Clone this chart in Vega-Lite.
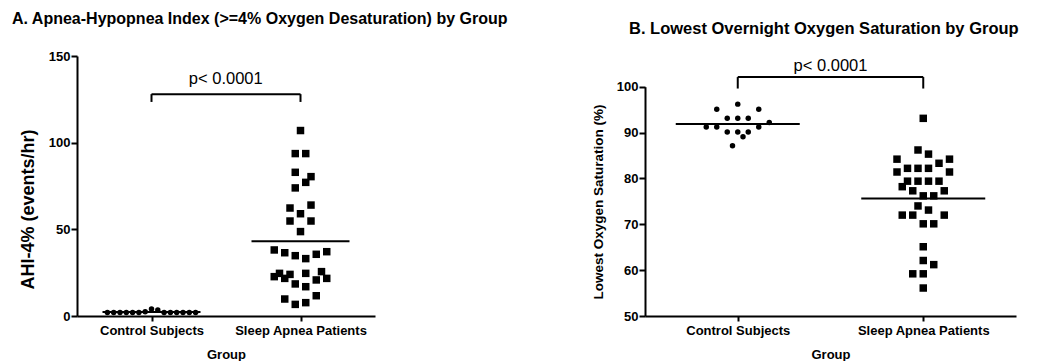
{
  "$schema": "https://vega.github.io/schema/vega-lite/v6.json",
  "padding": {"left": 12, "top": 11, "right": 0, "bottom": 0},
  "background": "white",
  "config": {
    "font": "Liberation Sans",
    "view": {"stroke": null},
    "axis": {"domainColor": "black", "tickColor": "black", "labelColor": "black", "titleColor": "black", "grid": false, "domainWidth": 2, "tickWidth": 2, "labelFont": "Liberation Sans", "titleFont": "Liberation Sans", "labelFontWeight": "bold", "titleFontWeight": "bold"}
  },
  "datasets": {
    "ahi": [
      {"group": "Control Subjects", "col": -4.2, "value": 2},
      {"group": "Control Subjects", "col": -3.6, "value": 2},
      {"group": "Control Subjects", "col": -3.0, "value": 2},
      {"group": "Control Subjects", "col": -2.4, "value": 2},
      {"group": "Control Subjects", "col": -1.8, "value": 2},
      {"group": "Control Subjects", "col": -1.2, "value": 2},
      {"group": "Control Subjects", "col": -0.6, "value": 2.5},
      {"group": "Control Subjects", "col": 0.0, "value": 4},
      {"group": "Control Subjects", "col": 0.6, "value": 3.5},
      {"group": "Control Subjects", "col": 1.2, "value": 2},
      {"group": "Control Subjects", "col": 1.8, "value": 2},
      {"group": "Control Subjects", "col": 2.4, "value": 2},
      {"group": "Control Subjects", "col": 3.0, "value": 2},
      {"group": "Control Subjects", "col": 3.6, "value": 2},
      {"group": "Control Subjects", "col": 4.2, "value": 2},
      {"group": "Sleep Apnea Patients", "col": 0, "value": 107},
      {"group": "Sleep Apnea Patients", "col": -0.5, "value": 93.7},
      {"group": "Sleep Apnea Patients", "col": 0.5, "value": 93.7},
      {"group": "Sleep Apnea Patients", "col": -0.5, "value": 82.9},
      {"group": "Sleep Apnea Patients", "col": 1, "value": 80.4},
      {"group": "Sleep Apnea Patients", "col": 0.5, "value": 77.1},
      {"group": "Sleep Apnea Patients", "col": -0.5, "value": 73.9},
      {"group": "Sleep Apnea Patients", "col": -1, "value": 62.3},
      {"group": "Sleep Apnea Patients", "col": 1, "value": 64.0},
      {"group": "Sleep Apnea Patients", "col": 0, "value": 59.0},
      {"group": "Sleep Apnea Patients", "col": -1, "value": 54.8},
      {"group": "Sleep Apnea Patients", "col": 1, "value": 54.8},
      {"group": "Sleep Apnea Patients", "col": 0, "value": 48.7},
      {"group": "Sleep Apnea Patients", "col": -2.5, "value": 38.1},
      {"group": "Sleep Apnea Patients", "col": -1.5, "value": 36.5},
      {"group": "Sleep Apnea Patients", "col": -0.5, "value": 34.8},
      {"group": "Sleep Apnea Patients", "col": 0.5, "value": 33.1},
      {"group": "Sleep Apnea Patients", "col": 1.5, "value": 35.6},
      {"group": "Sleep Apnea Patients", "col": 2.5, "value": 37.1},
      {"group": "Sleep Apnea Patients", "col": -2.5, "value": 22.7},
      {"group": "Sleep Apnea Patients", "col": -2, "value": 24.6},
      {"group": "Sleep Apnea Patients", "col": -1.5, "value": 21.7},
      {"group": "Sleep Apnea Patients", "col": -1, "value": 24.0},
      {"group": "Sleep Apnea Patients", "col": 0.5, "value": 24.6},
      {"group": "Sleep Apnea Patients", "col": 2, "value": 25.6},
      {"group": "Sleep Apnea Patients", "col": 2.5, "value": 21.7},
      {"group": "Sleep Apnea Patients", "col": 1.5, "value": 20.8},
      {"group": "Sleep Apnea Patients", "col": -0.5, "value": 18.5},
      {"group": "Sleep Apnea Patients", "col": 0.5, "value": 16.9},
      {"group": "Sleep Apnea Patients", "col": -1.5, "value": 9.8},
      {"group": "Sleep Apnea Patients", "col": -0.5, "value": 6.7},
      {"group": "Sleep Apnea Patients", "col": 0.5, "value": 7.7},
      {"group": "Sleep Apnea Patients", "col": 1.5, "value": 11.7}
    ],
    "spo2": [
      {"group": "Control Subjects", "col": 0, "value": 96.2},
      {"group": "Control Subjects", "col": -2, "value": 95.1},
      {"group": "Control Subjects", "col": 2, "value": 95.1},
      {"group": "Control Subjects", "col": -1, "value": 93.1},
      {"group": "Control Subjects", "col": 0, "value": 93.1},
      {"group": "Control Subjects", "col": 1, "value": 93.1},
      {"group": "Control Subjects", "col": -3, "value": 91.2},
      {"group": "Control Subjects", "col": -2, "value": 91.2},
      {"group": "Control Subjects", "col": 2, "value": 91.2},
      {"group": "Control Subjects", "col": 3, "value": 92.2},
      {"group": "Control Subjects", "col": -1, "value": 90.1},
      {"group": "Control Subjects", "col": 0, "value": 90.1},
      {"group": "Control Subjects", "col": 1, "value": 90.1},
      {"group": "Control Subjects", "col": 0.5, "value": 89.1},
      {"group": "Control Subjects", "col": -0.5, "value": 87.1},
      {"group": "Sleep Apnea Patients", "col": 0, "value": 93.1},
      {"group": "Sleep Apnea Patients", "col": -0.5, "value": 86.2},
      {"group": "Sleep Apnea Patients", "col": 0.5, "value": 85.3},
      {"group": "Sleep Apnea Patients", "col": -2.5, "value": 84.2},
      {"group": "Sleep Apnea Patients", "col": 2.5, "value": 84.2},
      {"group": "Sleep Apnea Patients", "col": 1.5, "value": 83.3},
      {"group": "Sleep Apnea Patients", "col": -1.5, "value": 82.2},
      {"group": "Sleep Apnea Patients", "col": -0.5, "value": 82.2},
      {"group": "Sleep Apnea Patients", "col": 0.5, "value": 82.2},
      {"group": "Sleep Apnea Patients", "col": -2.5, "value": 81.4},
      {"group": "Sleep Apnea Patients", "col": 2.5, "value": 81.4},
      {"group": "Sleep Apnea Patients", "col": -1.5, "value": 79.4},
      {"group": "Sleep Apnea Patients", "col": -0.5, "value": 79.4},
      {"group": "Sleep Apnea Patients", "col": 0.5, "value": 79.4},
      {"group": "Sleep Apnea Patients", "col": 1.5, "value": 79.4},
      {"group": "Sleep Apnea Patients", "col": -2, "value": 78.2},
      {"group": "Sleep Apnea Patients", "col": -1, "value": 77.3},
      {"group": "Sleep Apnea Patients", "col": 2, "value": 77.3},
      {"group": "Sleep Apnea Patients", "col": 0, "value": 76.2},
      {"group": "Sleep Apnea Patients", "col": 1, "value": 76.2},
      {"group": "Sleep Apnea Patients", "col": -0.5, "value": 74.0},
      {"group": "Sleep Apnea Patients", "col": 0.5, "value": 73.1},
      {"group": "Sleep Apnea Patients", "col": -2, "value": 72.0},
      {"group": "Sleep Apnea Patients", "col": -1, "value": 72.0},
      {"group": "Sleep Apnea Patients", "col": 2, "value": 72.0},
      {"group": "Sleep Apnea Patients", "col": 0, "value": 70.1},
      {"group": "Sleep Apnea Patients", "col": 1, "value": 70.1},
      {"group": "Sleep Apnea Patients", "col": 0, "value": 65.1},
      {"group": "Sleep Apnea Patients", "col": 0, "value": 62.1},
      {"group": "Sleep Apnea Patients", "col": 1, "value": 61.2},
      {"group": "Sleep Apnea Patients", "col": -1, "value": 59.2},
      {"group": "Sleep Apnea Patients", "col": 0, "value": 59.2},
      {"group": "Sleep Apnea Patients", "col": 0, "value": 56.1}
    ],
    "brA": [{"from": "Control Subjects", "to": "Sleep Apnea Patients", "y": 128, "yEnd": 123.5, "ty": 134, "label": "p< 0.0001"}],
    "brB": [{"from": "Control Subjects", "to": "Sleep Apnea Patients", "y": 102.1, "yEnd": 99.6, "ty": 103.4, "label": "p< 0.0001"}]
  },
  "hconcat": [
    {
      "width": 298,
      "height": 260,
      "title": {"text": "A.  Apnea-Hypopnea Index (>=4% Oxygen Desaturation) by Group", "anchor": "start", "frame": "group", "dx": -65, "fontSize": 16, "fontWeight": "bold", "color": "black", "baseline": "alphabetic", "offset": 10},
      "layer": [
        {
          "data": {"name": "ahi"},
          "mark": {"type": "point", "filled": true, "opacity": 1, "color": "black", "strokeWidth": 0},
          "encoding": {
            "x": {"field": "group", "type": "nominal", "scale": {"type": "point", "padding": 0.5, "domain": ["Control Subjects", "Sleep Apnea Patients"]},
              "axis": {"title": "Group", "labelAngle": 0, "tickSize": 5, "labelFontSize": 13, "labelPadding": 3, "titleFontSize": 13, "titlePadding": 11}},
            "xOffset": {"field": "col", "type": "quantitative", "scale": {"domain": [-1, 1], "range": [-10.5, 10.5]}},
            "y": {"field": "value", "type": "quantitative", "scale": {"domain": [0, 150], "nice": false},
              "axis": {"values": [0, 50, 100, 150], "title": "AHI-4% (events/hr)", "tickSize": 6, "labelFontSize": 13, "labelPadding": 1, "titleFontSize": 18, "titleX": -49, "titleY": 153, "titleBaseline": "middle"}},
            "shape": {"field": "group", "type": "nominal", "scale": {"domain": ["Control Subjects", "Sleep Apnea Patients"], "range": ["circle", "square"]}, "legend": null},
            "size": {"field": "group", "type": "ordinal", "scale": {"domain": ["Control Subjects", "Sleep Apnea Patients"], "range": [30, 56]}, "legend": null}
          }
        },
        {
          "data": {"name": "ahi"},
          "mark": {"type": "tick", "color": "black", "thickness": 2, "size": 98, "opacity": 1},
          "encoding": {
            "x": {"field": "group", "type": "nominal"},
            "y": {"field": "value", "aggregate": "mean", "type": "quantitative"}
          }
        },
        {
          "data": {"name": "brA"},
          "mark": {"type": "rule", "color": "black", "strokeWidth": 2},
          "encoding": {
            "x": {"field": "from", "type": "nominal"},
            "x2": {"field": "to"},
            "y": {"field": "y", "type": "quantitative"}
          }
        },
        {
          "data": {"name": "brA"},
          "mark": {"type": "rule", "color": "black", "strokeWidth": 2},
          "encoding": {
            "x": {"field": "from", "type": "nominal"},
            "y": {"field": "y", "type": "quantitative"},
            "y2": {"field": "yEnd"}
          }
        },
        {
          "data": {"name": "brA"},
          "mark": {"type": "rule", "color": "black", "strokeWidth": 2},
          "encoding": {
            "x": {"field": "to", "type": "nominal"},
            "y": {"field": "y", "type": "quantitative"},
            "y2": {"field": "yEnd"}
          }
        },
        {
          "data": {"name": "brA"},
          "mark": {"type": "text", "color": "black", "fontSize": 16.5, "dx": 74.25, "baseline": "alphabetic", "align": "center"},
          "encoding": {
            "x": {"field": "from", "type": "nominal"},
            "y": {"field": "ty", "type": "quantitative"},
            "text": {"field": "label"}
          }
        }
      ]
    },
    {
      "width": 371,
      "height": 260,
      "title": {"text": "B.  Lowest Overnight Oxygen Saturation by Group", "anchor": "start", "frame": "group", "dx": -16, "fontSize": 16.5, "fontWeight": "bold", "color": "black", "baseline": "alphabetic", "offset": 6},
      "layer": [
        {
          "data": {"name": "spo2"},
          "mark": {"type": "point", "filled": true, "opacity": 1, "color": "black", "strokeWidth": 0},
          "encoding": {
            "x": {"field": "group", "type": "nominal", "scale": {"type": "point", "padding": 0.5, "domain": ["Control Subjects", "Sleep Apnea Patients"]},
              "axis": {"title": "Group", "labelAngle": 0, "tickSize": 5, "labelFontSize": 13, "labelPadding": 3, "titleFontSize": 13, "titlePadding": 11}},
            "xOffset": {"field": "col", "type": "quantitative", "scale": {"domain": [-1, 1], "range": [-10.3, 10.3]}},
            "y": {"field": "value", "type": "quantitative", "scale": {"domain": [50, 100], "range": [260, 30.7], "nice": false, "zero": false},
              "axis": {"values": [50, 60, 70, 80, 90, 100], "title": "Lowest Oxygen Saturation (%)", "tickSize": 6, "labelFontSize": 13, "labelPadding": 1, "titleFontSize": 13.5, "titleX": -47, "titleY": 145.5, "titleBaseline": "middle"}},
            "shape": {"field": "group", "type": "nominal", "scale": {"domain": ["Control Subjects", "Sleep Apnea Patients"], "range": ["circle", "square"]}, "legend": null},
            "size": {"field": "group", "type": "ordinal", "scale": {"domain": ["Control Subjects", "Sleep Apnea Patients"], "range": [36, 46]}, "legend": null}
          }
        },
        {
          "data": {"name": "spo2"},
          "mark": {"type": "tick", "color": "black", "thickness": 2, "size": 124, "opacity": 1},
          "encoding": {
            "x": {"field": "group", "type": "nominal"},
            "y": {"field": "value", "aggregate": "mean", "type": "quantitative"}
          }
        },
        {
          "data": {"name": "brB"},
          "mark": {"type": "rule", "color": "black", "strokeWidth": 2},
          "encoding": {
            "x": {"field": "from", "type": "nominal"},
            "x2": {"field": "to"},
            "y": {"field": "y", "type": "quantitative"}
          }
        },
        {
          "data": {"name": "brB"},
          "mark": {"type": "rule", "color": "black", "strokeWidth": 2},
          "encoding": {
            "x": {"field": "from", "type": "nominal"},
            "y": {"field": "y", "type": "quantitative"},
            "y2": {"field": "yEnd"}
          }
        },
        {
          "data": {"name": "brB"},
          "mark": {"type": "rule", "color": "black", "strokeWidth": 2},
          "encoding": {
            "x": {"field": "to", "type": "nominal"},
            "y": {"field": "y", "type": "quantitative"},
            "y2": {"field": "yEnd"}
          }
        },
        {
          "data": {"name": "brB"},
          "mark": {"type": "text", "color": "black", "fontSize": 16.5, "dx": 92.75, "baseline": "alphabetic", "align": "center"},
          "encoding": {
            "x": {"field": "from", "type": "nominal"},
            "y": {"field": "ty", "type": "quantitative"},
            "text": {"field": "label"}
          }
        }
      ]
    }
  ],
  "spacing": 78
}
